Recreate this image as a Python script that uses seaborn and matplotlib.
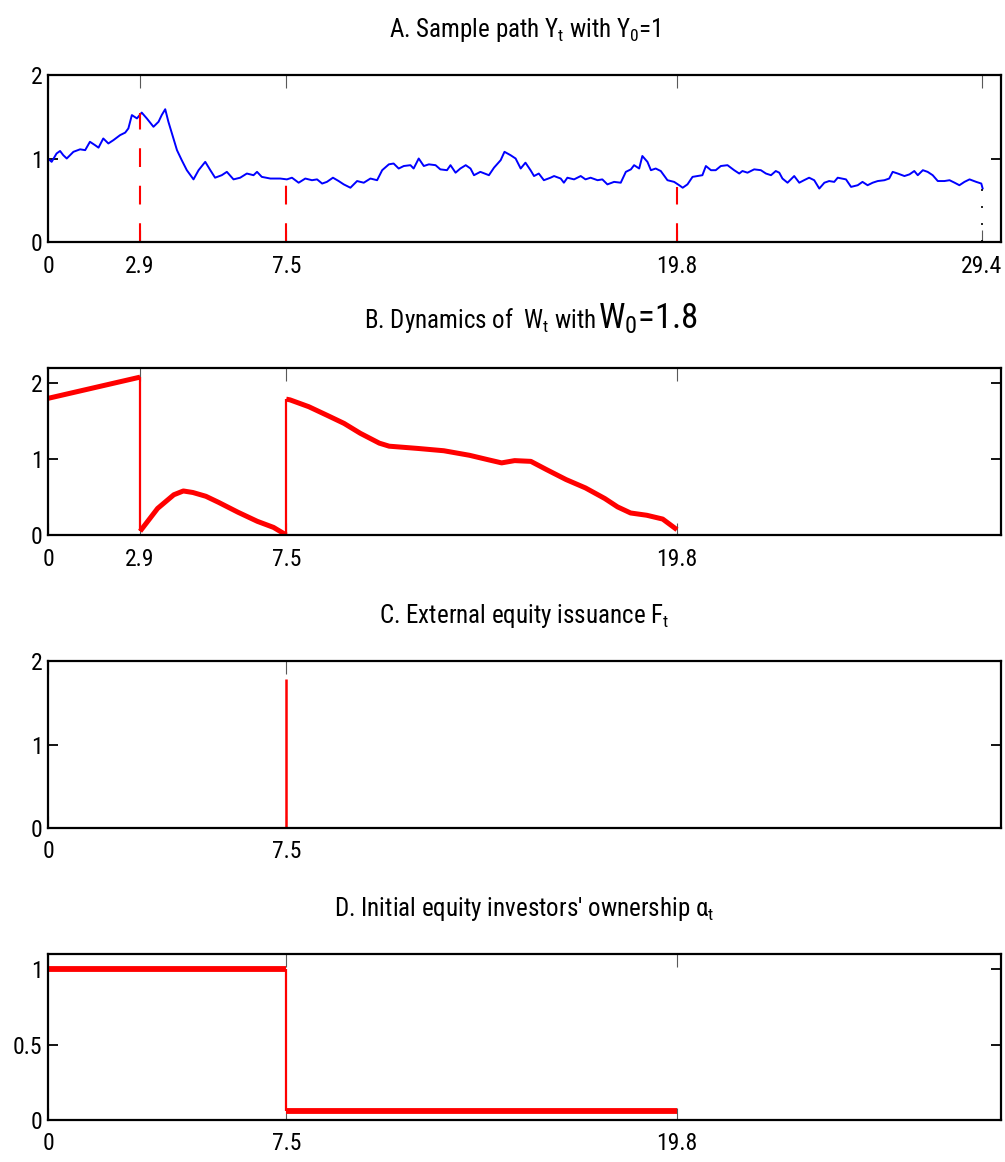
import matplotlib
matplotlib.use("Agg")
import matplotlib.pyplot as plt
import seaborn as sns

# ---------------- data ----------------
# Panel A: sample path Y_t
path_t = [0.0, 0.115, 0.27, 0.38, 0.48, 0.59, 0.80, 1.01, 1.17, 1.32, 1.48, 1.59, 1.74, 1.90,
          2.06, 2.27, 2.43, 2.53, 2.64, 2.80, 2.95, 3.11, 3.32, 3.48, 3.58, 3.69, 3.79, 3.90,
          4.06, 4.21, 4.37, 4.58, 4.74, 4.95, 5.11, 5.26, 5.47, 5.63, 5.84, 6.05, 6.26, 6.47,
          6.58, 6.73, 7.00, 7.31, 7.52, 7.68, 7.89, 8.10, 8.31, 8.47, 8.63, 8.78, 8.97, 9.15,
          9.31, 9.52, 9.73, 9.94, 10.15, 10.36, 10.52, 10.73, 10.88, 11.04, 11.20, 11.41, 11.51,
          11.67, 11.83, 11.99, 12.20, 12.35, 12.56, 12.67, 12.83, 12.98, 13.15, 13.30, 13.41,
          13.61, 13.88, 14.04, 14.25, 14.37, 14.56, 14.72, 14.88, 15.03, 15.19, 15.30, 15.45,
          15.61, 15.82, 15.93, 16.14, 16.24, 16.35, 16.56, 16.77, 16.92, 17.08, 17.30, 17.45,
          17.61, 17.82, 18.03, 18.19, 18.35, 18.45, 18.61, 18.71, 18.87, 18.98, 19.13, 19.29,
          19.50, 19.71, 19.87, 19.98, 20.13, 20.29, 20.45, 20.60, 20.71, 20.87, 21.02, 21.18,
          21.39, 21.60, 21.76, 21.86, 22.02, 22.23, 22.44, 22.60, 22.76, 22.91, 23.02, 23.12,
          23.28, 23.49, 23.65, 23.80, 23.96, 24.12, 24.28, 24.44, 24.59, 24.75, 24.86, 25.12,
          25.28, 25.49, 25.64, 25.80, 25.96, 26.12, 26.33, 26.48, 26.59, 26.75, 26.96, 27.12,
          27.27, 27.38, 27.54, 27.69, 27.85, 28.01, 28.22, 28.38, 28.54, 28.69, 28.85, 29.01,
          29.22, 29.38, 29.43]
path_y = [1.00, 0.96, 1.06, 1.09, 1.04, 1.00, 1.08, 1.11, 1.10, 1.20, 1.16, 1.13, 1.24, 1.18,
          1.22, 1.28, 1.31, 1.36, 1.52, 1.48, 1.55, 1.48, 1.38, 1.44, 1.52, 1.59, 1.44, 1.30,
          1.10, 0.98, 0.86, 0.75, 0.86, 0.96, 0.86, 0.77, 0.80, 0.84, 0.75, 0.77, 0.82, 0.80,
          0.84, 0.78, 0.76, 0.76, 0.75, 0.77, 0.71, 0.76, 0.74, 0.75, 0.70, 0.72, 0.77, 0.73,
          0.69, 0.65, 0.73, 0.71, 0.76, 0.74, 0.86, 0.93, 0.94, 0.88, 0.91, 0.92, 0.88,
          1.00, 0.91, 0.93, 0.92, 0.87, 0.86, 0.92, 0.83, 0.88, 0.92, 0.88, 0.80,
          0.84, 0.80, 0.89, 0.98, 1.08, 1.04, 1.00, 0.88, 0.95, 0.86, 0.79, 0.82,
          0.74, 0.77, 0.79, 0.76, 0.71, 0.77, 0.75, 0.79, 0.75, 0.77, 0.74, 0.75,
          0.69, 0.72, 0.71, 0.84, 0.87, 0.92, 0.88, 1.03, 0.96, 0.86, 0.88, 0.85,
          0.74, 0.72, 0.68, 0.65, 0.69, 0.78, 0.79, 0.80, 0.91, 0.86, 0.86, 0.91,
          0.92, 0.86, 0.82, 0.85, 0.83, 0.87, 0.86, 0.82, 0.80, 0.85, 0.83, 0.76,
          0.71, 0.79, 0.71, 0.74, 0.77, 0.74, 0.64, 0.71, 0.73, 0.72, 0.77, 0.75,
          0.66, 0.68, 0.72, 0.68, 0.71, 0.73, 0.74, 0.76, 0.84, 0.82, 0.79, 0.81,
          0.85, 0.80, 0.86, 0.84, 0.80, 0.73, 0.73, 0.74, 0.71, 0.68, 0.72, 0.75,
          0.72, 0.70, 0.63]
event_t = [2.9, 7.5, 19.8]
event_y = [1.55, 0.72, 0.66]
final_t = 29.4
final_y = 0.63

# Panel B: W_t
w_t1 = [0.0, 2.9]
w_y1 = [1.80, 2.08]
w_t2 = [2.9, 3.45, 3.96, 4.26, 4.56, 4.97, 5.37, 5.98, 6.59, 7.10, 7.5]
w_y2 = [0.05, 0.35, 0.53, 0.58, 0.56, 0.51, 0.43, 0.30, 0.18, 0.10, 0.0]
w_t3 = [7.5, 7.62, 8.21, 8.82, 9.32, 9.83, 10.43, 10.74, 11.65, 12.46, 13.27, 13.87, 14.28,
        14.69, 15.20, 15.70, 16.31, 16.92, 17.53, 17.93, 18.34, 18.85, 19.35, 19.8]
w_y3 = [1.79, 1.78, 1.69, 1.57, 1.47, 1.34, 1.21, 1.17, 1.14, 1.11, 1.05, 0.99, 0.95,
        0.98, 0.97, 0.86, 0.73, 0.62, 0.48, 0.37, 0.29, 0.26, 0.21, 0.07]

# Panel C: F_t
f_t = [7.5, 7.5]
f_y = [0.0, 1.78]

# Panel D: alpha_t
a_t1 = [0.0, 7.5]
a_y1 = [1.0, 1.0]
a_t2 = [7.5, 19.8]
a_y2 = [0.06, 0.06]

xt_A = [0, 2.9, 7.5, 19.8, 29.4]
xt_B = [0, 2.9, 7.5, 19.8]
xt_C = [0, 7.5]
xt_D = [0, 7.5, 19.8]
yt_ABC = [0, 1, 2]
yt_D = [0, 0.5, 1]

# ---------------- style ----------------
sns.set_theme(style="white")
FONT = ["Roboto Condensed", "Liberation Sans", "DejaVu Sans"]
plt.rcParams["font.family"] = FONT
plt.rcParams["mathtext.fontset"] = "custom"
plt.rcParams["mathtext.rm"] = "Roboto Condensed"
plt.rcParams["mathtext.it"] = "Roboto Condensed"
plt.rcParams["mathtext.bf"] = "Roboto Condensed:bold"
for k in ["text.color", "axes.labelcolor", "xtick.color", "ytick.color", "axes.titlecolor"]:
    plt.rcParams[k] = "black"

W, H = 1005, 1162
fig = plt.figure(figsize=(W / 100, H / 100), dpi=100)

LKW = dict(estimator=None, sort=False, solid_capstyle="butt", dash_capstyle="butt")


def make_ax(top_px, bot_px):
    left, right = 48, 1001
    return fig.add_axes([left / W, 1 - bot_px / H, (right - left) / W, (bot_px - top_px) / H])


def style(ax, xticks, yticks, ylim, ylabels=None):
    ax.set_xlim(0, 30)
    ax.set_ylim(*ylim)
    ax.set_xticks(xticks)
    ax.set_xticklabels([("%g" % v) for v in xticks])
    ax.set_yticks(yticks)
    ax.set_yticklabels(ylabels if ylabels else [("%g" % v) for v in yticks])
    ax.set_xlabel("")
    ax.set_ylabel("")
    for s in ax.spines.values():
        s.set_visible(True)
        s.set_color("black")
        s.set_linewidth(1.6)
    ax.tick_params(axis="x", which="both", direction="in", top=True, bottom=True,
                   length=9, width=0.8, color="0.35", labelsize=17, pad=9, labelcolor="black")
    ax.tick_params(axis="y", which="both", direction="in", left=True, right=True,
                   length=7, width=1.3, color="black", labelsize=17, pad=4, labelcolor="black")
    ax.grid(False)
    if ax.get_legend():
        ax.get_legend().remove()


TITLE_PAD = 27.5
TS = 18

# Panel A
axA = make_ax(75, 242)
sns.lineplot(x=path_t, y=path_y, ax=axA, color="#0000ff", lw=1.4, **LKW)
for et, ey in zip(event_t, event_y):
    sns.lineplot(x=[et, et], y=[0, ey], ax=axA, color="#ff0000", lw=1.5, **LKW)
    axA.lines[-1].set_dashes([9, 9])
sns.lineplot(x=[final_t, final_t], y=[0, final_y], ax=axA, color="black", lw=1.2, **LKW)
axA.lines[-1].set_dashes([1.2, 9])
style(axA, xt_A, yt_ABC, (0, 2))
axA.set_title(r"A. Sample path $Y_t$ with $Y_0$=1", fontsize=TS, pad=TITLE_PAD)

# Panel B
axB = make_ax(368, 535)
sns.lineplot(x=w_t1, y=w_y1, ax=axB, color="#ff0000", lw=3.6, **LKW)
sns.lineplot(x=[w_t1[-1], w_t2[0]], y=[w_y1[-1], w_y2[0]], ax=axB, color="#ff0000", lw=1.6, **LKW)
sns.lineplot(x=w_t2, y=w_y2, ax=axB, color="#ff0000", lw=3.6, **LKW)
sns.lineplot(x=[w_t2[-1], w_t3[0]], y=[w_y2[-1], w_y3[0]], ax=axB, color="#ff0000", lw=1.6, **LKW)
sns.lineplot(x=w_t3, y=w_y3, ax=axB, color="#ff0000", lw=3.6, **LKW)
style(axB, xt_B, yt_ABC, (0, 2.2))
fig.text(598 / W, 1 - 328 / H, r"B. Dynamics of  $W_t$ with ", fontsize=TS,
         ha="right", va="baseline")
fig.text(598 / W, 1 - 328 / H, r"$W_0$=1.8", fontsize=25, ha="left", va="baseline")

# Panel C
axC = make_ax(661, 828)
sns.lineplot(x=f_t, y=f_y, ax=axC, color="#ff0000", lw=1.8, **LKW)
style(axC, xt_C, yt_ABC, (0, 2))
axC.set_title(r"C. External equity issuance $F_t$", fontsize=TS, pad=TITLE_PAD)

# Panel D
axD = make_ax(954, 1120)
sns.lineplot(x=a_t1, y=a_y1, ax=axD, color="#ff0000", lw=4.2, **LKW)
sns.lineplot(x=[a_t1[-1], a_t2[0]], y=[a_y1[-1], a_y2[0]], ax=axD, color="#ff0000", lw=1.6, **LKW)
sns.lineplot(x=a_t2, y=a_y2, ax=axD, color="#ff0000", lw=4.2, **LKW)
style(axD, xt_D, yt_D, (0, 1.1), ylabels=["0", "0.5", "1"])
axD.set_title("D. Initial equity investors\u2032 ownership " + r"$\alpha_t$", fontsize=TS,
              pad=TITLE_PAD)

fig.savefig("out.png", dpi=100)
